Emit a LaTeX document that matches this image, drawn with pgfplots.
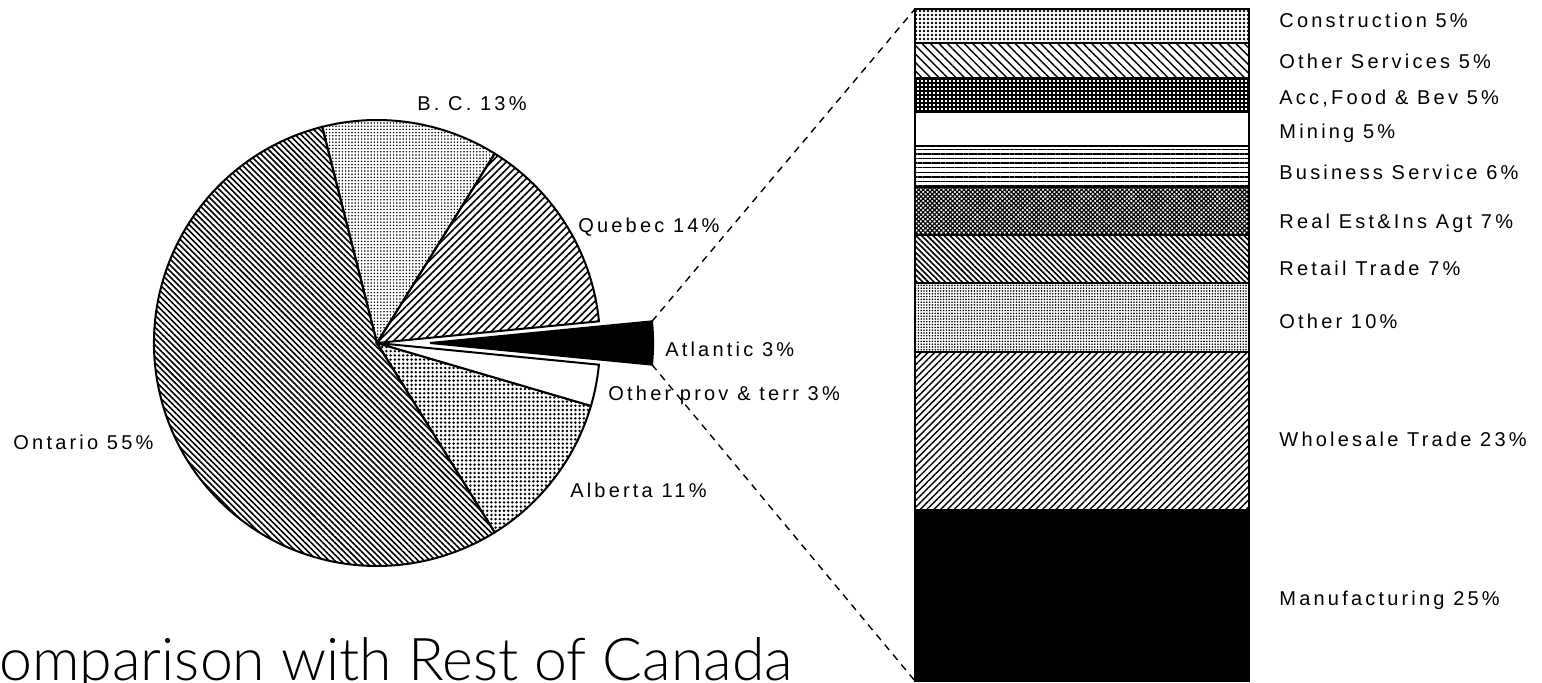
\documentclass[border=0pt]{standalone}
\usepackage{fontspec}
\setmainfont{Liberation Sans}
\newfontfamily\labfont{Liberation Sans}[LetterSpace=16]
\newfontfamily\titlefont{Lato-Light.ttf}
\usepackage{pgfplots}
\pgfplotsset{compat=1.18}
\usepackage{pgfplotstable}
\usetikzlibrary{patterns.meta}

% pie shares (%)
\pgfplotstableread{
region pct
Atlantic 3.1
Quebec 14.6
BC 12.8
Ontario 54.9
Alberta 11.6
OtherProv 3.0
}\pietable

\begin{document}
\begin{tikzpicture}
\path[use as bounding box] (0,0) rectangle (771pt,-341.5pt);
\pgfplotstablegetelem{0}{pct}\of\pietable \edef\pAtl{\pgfplotsretval}
\pgfplotstablegetelem{1}{pct}\of\pietable \edef\pQue{\pgfplotsretval}
\pgfplotstablegetelem{2}{pct}\of\pietable \edef\pBC{\pgfplotsretval}
\pgfplotstablegetelem{3}{pct}\of\pietable \edef\pOnt{\pgfplotsretval}
\pgfplotstablegetelem{4}{pct}\of\pietable \edef\pAlb{\pgfplotsretval}
\pgfplotstablegetelem{5}{pct}\of\pietable \edef\pOth{\pgfplotsretval}
\pgfmathsetmacro\aA{-1.8*\pAtl}
\pgfmathsetmacro\aB{\aA+3.6*\pAtl}
\pgfmathsetmacro\aC{\aB+3.6*\pQue}
\pgfmathsetmacro\aD{\aC+3.6*\pBC}
\pgfmathsetmacro\aE{\aD+3.6*\pOnt}
\pgfmathsetmacro\aF{\aE+3.6*\pAlb}
\pgfmathsetmacro\aG{\aF+3.6*\pOth}
\pgfmathsetmacro\xA{cos(\aA)}\pgfmathsetmacro\yA{sin(\aA)}
\pgfmathsetmacro\xB{cos(\aB)}\pgfmathsetmacro\yB{sin(\aB)}
\pgfmathsetmacro\xC{cos(\aC)}\pgfmathsetmacro\yC{sin(\aC)}
\pgfmathsetmacro\xD{cos(\aD)}\pgfmathsetmacro\yD{sin(\aD)}
\pgfmathsetmacro\xE{cos(\aE)}\pgfmathsetmacro\yE{sin(\aE)}
\pgfmathsetmacro\xF{cos(\aF)}\pgfmathsetmacro\yF{sin(\aF)}
\def\expl{0.238}
\pgfmathsetmacro\xAe{\xA+\expl}
\pgfmathsetmacro\xBe{\xB+\expl}

\tikzset{lab/.style={anchor=west, inner sep=0pt, font=\labfont\fontsize{10}{12}\selectfont}}

% ---------------- pie ----------------
\begin{axis}[hide axis, x=111.5pt, y=111.5pt, xmin=-1, xmax=1, ymin=-1, ymax=1,
  at={(188.5pt,-171.5pt)}, anchor=center, clip=false]
 % Quebec
 \draw[line width=1pt, pattern={Lines[angle=45,distance=2.6pt,line width=0.8pt]}]
   (axis cs:0,0) -- (axis cs:\xB,\yB) arc[start angle=\aB, end angle=\aC, radius=111.5pt] -- cycle;
 % BC
 \draw[line width=1pt, pattern={Dots[radius=0.42pt,distance=1.6pt]}]
   (axis cs:0,0) -- (axis cs:\xC,\yC) arc[start angle=\aC, end angle=\aD, radius=111.5pt] -- cycle;
 % Ontario
 \draw[line width=1pt, pattern={Lines[angle=-45,distance=2.1pt,line width=0.8pt]}]
   (axis cs:0,0) -- (axis cs:\xD,\yD) arc[start angle=\aD, end angle=\aE, radius=111.5pt] -- cycle;
 % Alberta
 \draw[line width=1pt, pattern={Dots[radius=0.68pt,distance=2.1pt]}]
   (axis cs:0,0) -- (axis cs:\xE,\yE) arc[start angle=\aE, end angle=\aF, radius=111.5pt] -- cycle;
 % Other prov & terr
 \draw[line width=1pt, fill=white]
   (axis cs:0,0) -- (axis cs:\xF,\yF) arc[start angle=\aF, end angle=\aG, radius=111.5pt] -- cycle;
 % Atlantic (exploded)
 \filldraw[line width=1pt, fill=black]
   (axis cs:\expl,0) -- (axis cs:\xAe,\yA) arc[start angle=\aA, end angle=\aB, radius=111.5pt] -- cycle;
 \coordinate (atlT) at (axis cs:\xBe,\yB);
 \coordinate (atlB) at (axis cs:\xAe,\yA);
 \node[lab] at (axis cs:0.179,1.072) {B. C. 13\%};
 \node[lab] at (axis cs:0.901,0.520) {Quebec 14\%};
 \node[lab] at (axis cs:1.291,-0.027) {Atlantic 3\%};
 \node[lab] at (axis cs:1.036,-0.233) {Other prov \& terr 3\%};
 \node[lab] at (axis cs:0.865,-0.659) {Alberta 11\%};
 \node[lab] at (axis cs:-1.632,-0.444) {Ontario 55\%};
\end{axis}

% ---------------- stacked bar ----------------
\begin{axis}[hide axis, scale only axis, width=167pt, height=336pt,
  at={(457.5pt,-340.5pt)}, anchor=south west,
  xmin=-0.5, xmax=0.5, ymin=0, ymax=98, enlargelimits=false,
  ybar stacked, bar width=1, clip=false]
 \addplot[draw=black, line width=1pt, fill=black] coordinates {(0,25)}; % Manufacturing
 \addplot[draw=black, line width=1pt, pattern={Lines[angle=45,distance=2.4pt,line width=0.7pt]}] coordinates {(0,23)}; % Wholesale
 \addplot[draw=black, line width=1pt, pattern={Dots[radius=0.45pt,distance=1.4pt]}] coordinates {(0,10)}; % Other
 \addplot[draw=black, line width=1pt, pattern={Lines[angle=-45,distance=2pt,line width=0.8pt]}] coordinates {(0,7)}; % Retail
 \addplot[draw=black, line width=1pt, pattern={Hatch[angle=45,distance=1.6pt,line width=0.6pt]}] coordinates {(0,7)}; % Real estate
 \addplot[draw=black, line width=1pt, pattern={Lines[angle=0,distance=2.3pt,line width=0.7pt]}] coordinates {(0,6)}; % Business
 \addplot[draw=black, line width=1pt, fill=white] coordinates {(0,5)}; % Mining
 \addplot[draw=black, line width=1pt, pattern={Hatch[angle=0,distance=2pt,line width=0.6pt]}] coordinates {(0,5)}; % Acc food
 \addplot[draw=black, line width=1pt, pattern={Lines[angle=-45,distance=3pt,line width=0.7pt]}] coordinates {(0,5)}; % Other services
 \addplot[draw=black, line width=1pt, pattern={Dots[radius=0.68pt,distance=2pt]}] coordinates {(0,5)}; % Construction
 \coordinate (barTL) at (axis cs:-0.5,98);
 \coordinate (barBL) at (axis cs:-0.5,0);
 \node[lab, xshift=15pt] at (axis cs:0.5,96.3) {Construction 5\%};
 \node[lab, xshift=15pt] at (axis cs:0.5,90.3) {Other Services 5\%};
 \node[lab, xshift=15pt] at (axis cs:0.5,85.0) {Acc,Food \& Bev 5\%};
 \node[lab, xshift=15pt] at (axis cs:0.5,79.9) {Mining 5\%};
 \node[lab, xshift=15pt] at (axis cs:0.5,74.2) {Business Service 6\%};
 \node[lab, xshift=15pt] at (axis cs:0.5,66.8) {Real Est\&Ins Agt 7\%};
 \node[lab, xshift=15pt] at (axis cs:0.5,60.2) {Retail Trade 7\%};
 \node[lab, xshift=15pt] at (axis cs:0.5,52.4) {Other 10\%};
 \node[lab, xshift=15pt] at (axis cs:0.5,35.2) {Wholesale Trade 23\%};
 \node[lab, xshift=15pt] at (axis cs:0.5,11.8) {Manufacturing 25\%};
\end{axis}

\draw[line width=0.7pt, dash pattern=on 3.5pt off 3pt] (atlT) -- (barTL);
\draw[line width=0.7pt, dash pattern=on 3.5pt off 3pt] (atlB) -- (barBL);

\node[anchor=base west, inner sep=0pt, font=\titlefont\fontsize{29.5}{31}\selectfont]
  at (-20.2pt,-340.5pt) {Comparison with Rest of Canada};
\end{tikzpicture}
\end{document}
